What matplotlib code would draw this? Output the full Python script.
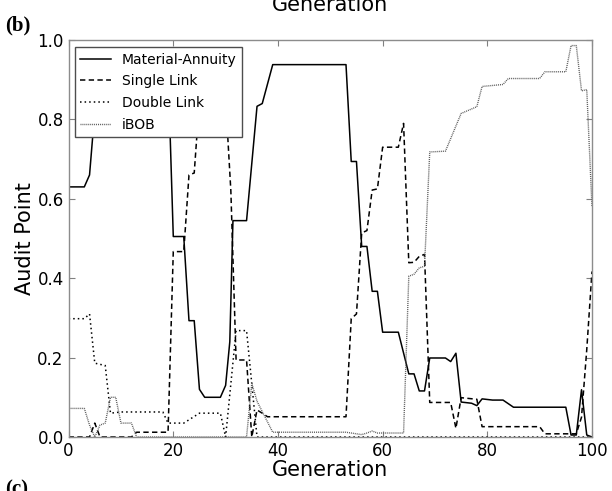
import numpy as np
import matplotlib
matplotlib.use('Agg')
import matplotlib.pyplot as plt

# series (generation, audit point)
ma_gen = [0, 3, 4, 5, 6, 19, 20, 22, 23, 24, 25, 26, 29, 30, 30.8, 31.4, 34, 36, 37, 39, 53, 54, 55, 56, 57, 58, 59, 60, 63,
          65, 66, 67, 68, 69, 72, 73, 74, 75, 77, 78, 79, 81, 83, 85, 95, 96, 97, 98, 99, 100]
ma_val = [0.63, 0.63, 0.66, 0.82, 0.93, 0.93, 0.505, 0.505, 0.293, 0.293, 0.12, 0.10, 0.10, 0.13, 0.24, 0.545, 0.545, 0.833, 0.84, 0.938, 0.938, 0.694, 0.694, 0.48, 0.48, 0.367, 0.367, 0.264, 0.264,
          0.159, 0.159, 0.116, 0.116, 0.199, 0.199, 0.19, 0.211, 0.088, 0.085, 0.079, 0.096, 0.093, 0.093, 0.075, 0.075, 0.005, 0.005, 0.119, 0.005, 0.0]

sl_gen = [0, 4, 5, 6, 12, 13, 19, 20, 22, 23, 24, 25, 30, 31, 32, 34, 35, 36, 37, 38, 53, 54, 55, 56, 57, 58, 59, 60, 63, 64,
          65, 66, 67, 68, 69, 73, 74, 75, 78, 79, 90, 91, 97, 98, 99, 100]
sl_val = [0.0, 0.0, 0.035, 0.0, 0.0, 0.012, 0.012, 0.467, 0.467, 0.66, 0.665, 0.85, 0.85, 0.62, 0.194, 0.194, 0.0, 0.068, 0.06, 0.051, 0.051, 0.298, 0.31, 0.514, 0.52, 0.622, 0.625, 0.73, 0.73, 0.79,
          0.439, 0.44, 0.455, 0.46, 0.087, 0.087, 0.022, 0.099, 0.095, 0.026, 0.026, 0.008, 0.008, 0.05, 0.22, 0.417]

dl_gen = [0, 3, 4, 5, 7, 8, 10, 18, 19, 22, 25, 29, 30, 32, 34, 36, 100]
dl_val = [0.298, 0.298, 0.31, 0.186, 0.18, 0.06, 0.063, 0.063, 0.035, 0.035, 0.06, 0.06, 0.0, 0.268, 0.268, 0.0, 0.0]

ib_gen = [0, 3, 4, 5, 6, 7, 8, 9, 10, 12, 13, 34, 35, 36, 39, 53, 55, 56, 57, 58, 59, 63, 64,
          65, 66, 67, 68, 69, 72, 75, 78, 79, 83, 84, 90, 91, 95, 96, 97, 98, 99, 100]
ib_val = [0.072, 0.072, 0.03, 0.0, 0.03, 0.035, 0.1, 0.1, 0.035, 0.035, 0.0, 0.0, 0.135, 0.09, 0.012, 0.012, 0.008, 0.006, 0.01, 0.015, 0.01, 0.01, 0.01,
          0.405, 0.41, 0.426, 0.43, 0.718, 0.72, 0.815, 0.832, 0.883, 0.888, 0.903, 0.903, 0.92, 0.92, 0.986, 0.986, 0.872, 0.875, 0.58]

x_ticks = [0, 20, 40, 60, 80, 100]
y_ticks = [0.0, 0.2, 0.4, 0.6, 0.8, 1.0]

plt.rcParams['font.family'] = 'DejaVu Sans'
plt.rcParams['xtick.direction'] = 'in'
plt.rcParams['ytick.direction'] = 'in'

fig = plt.figure(figsize=(6.12, 4.91), dpi=100)
ax = fig.add_axes([0.1121, 0.110, 0.8552, 0.8085])

ax.plot(ma_gen, ma_val, color='black', lw=1.1, label='Material-Annuity')
ax.plot(sl_gen, sl_val, color='black', lw=1.1, dashes=(3.5, 2.2), label='Single Link')
ax.plot(dl_gen, dl_val, color='black', lw=1.1, dashes=(1, 2), label='Double Link')
ax.plot(ib_gen, ib_val, color='0.35', lw=1.0, dashes=(0.7, 0.7), label='iBOB')

ax.set_xlim(0, 100)
ax.set_ylim(0, 1.0)
ax.set_xticks(x_ticks)
ax.set_yticks(y_ticks)
ax.tick_params(top=True, right=True, labelsize=12, length=4, color='0.5')
for s in ax.spines.values():
    s.set_color('0.55')
    s.set_linewidth(1.0)
ax.set_xlabel('Generation', fontsize=15, labelpad=0)
ax.set_ylabel('Audit Point', fontsize=15, labelpad=2)

leg = ax.legend(loc='upper left', bbox_to_anchor=(0.012, 0.982), borderaxespad=0, fontsize=10, fancybox=False,
                framealpha=1, edgecolor='0.3', handlelength=2.2, borderpad=0.4, labelspacing=0.55)
leg.get_frame().set_linewidth(1.0)

# bits of the neighbouring panels, clipped by the edges as in the source figure
fig.text(0.5392, 1 - 11 / 491, 'Generation', fontsize=15, ha='center', va='baseline')
fig.text(0.008, 1 - 30 / 491, '(b)', fontsize=15, fontweight='bold', family='Liberation Serif', va='baseline')
fig.text(0.008, 1 - 494 / 491, '(c)', fontsize=15, fontweight='bold', family='Liberation Serif', va='baseline')

fig.savefig('out.png', dpi=100, facecolor='white')
